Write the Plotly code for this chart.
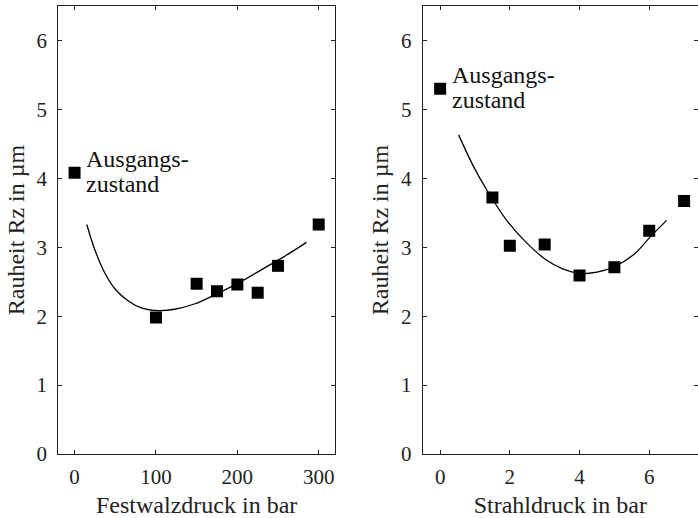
import plotly.graph_objects as go

# ---- data ----
walz_druck = [0, 100, 150, 175, 200, 225, 250, 300]
walz_rz = [4.08, 1.98, 2.47, 2.36, 2.46, 2.34, 2.73, 3.33]
walz_fit_x = [15, 25, 37, 50, 66, 82, 103, 123, 148, 158, 183, 207, 232, 257, 285]
walz_fit_y = [3.33, 2.96, 2.63, 2.39, 2.22, 2.12, 2.08, 2.10, 2.18, 2.23, 2.37, 2.52, 2.69, 2.86, 3.07]

strahl_druck = [0, 1.5, 2, 3, 4, 5, 6, 7]
strahl_rz = [5.30, 3.72, 3.02, 3.04, 2.59, 2.71, 3.24, 3.67]
strahl_fit_x = [0.53, 0.96, 1.34, 1.91, 2.49, 3.06, 3.5, 4.02, 4.5, 4.97, 5.55, 6.03, 6.5]
strahl_fit_y = [4.63, 4.17, 3.83, 3.39, 3.06, 2.81, 2.69, 2.62, 2.64, 2.71, 2.89, 3.15, 3.39]

y_ticks = [0, 1, 2, 3, 4, 5, 6]
walz_ticks = [0, 100, 200, 300]
strahl_ticks = [0, 2, 4, 6]

FONT = "'Liberation Serif', 'DejaVu Serif', 'Times New Roman', serif"
FS_TICK = 21
FS_TITLE = 24
AX = "#222222"

fig = go.Figure()
fig.add_trace(go.Scatter(x=walz_fit_x, y=walz_fit_y, mode="lines",
                         line=dict(color="black", width=1.3, shape="spline", smoothing=1.0),
                         xaxis="x", yaxis="y", showlegend=False))
fig.add_trace(go.Scatter(x=walz_druck, y=walz_rz, mode="markers", marker=dict(symbol="square", size=12, color="black"),
                         xaxis="x", yaxis="y", showlegend=False))
fig.add_trace(go.Scatter(x=strahl_fit_x, y=strahl_fit_y, mode="lines",
                         line=dict(color="black", width=1.3, shape="spline", smoothing=1.0),
                         xaxis="x2", yaxis="y2", showlegend=False))
fig.add_trace(go.Scatter(x=strahl_druck, y=strahl_rz, mode="markers", marker=dict(symbol="square", size=12, color="black"),
                         xaxis="x2", yaxis="y2", showlegend=False))

W, H = 698, 518
common_axis = dict(showgrid=False, zeroline=False, showline=True, linecolor=AX, linewidth=1.2,
                   ticks="inside", ticklen=4, tickcolor=AX, tickwidth=1,
                   tickfont=dict(family=FONT, size=FS_TICK, color="#222"))
title_font = dict(family=FONT, size=FS_TITLE, color="#222")

fig.update_layout(
    width=W, height=H,
    margin=dict(l=0, r=0, t=6, b=64),
    paper_bgcolor="white", plot_bgcolor="white",
    font=dict(family=FONT, size=FS_TICK, color="#222"),
    xaxis=dict(common_axis, domain=[58.3 / W, 335 / W], range=[-20, 320], tickvals=walz_ticks,
               mirror="ticks", anchor="y", ticklabelstandoff=4,
               title=dict(text="Festwalzdruck in bar", font=title_font, standoff=8)),
    yaxis=dict(common_axis, domain=[0, 1], range=[0, 6.5], tickvals=y_ticks, mirror="ticks", anchor="x",
               ticklabelstandoff=6,
               title=dict(text="Rauheit Rz in µm", font=title_font, standoff=5)),
    xaxis2=dict(common_axis, domain=[422.7 / W, 1.0], range=[-0.5, -0.5 + (W - 422.7) / 34.85],
                tickvals=strahl_ticks, mirror="ticks", anchor="y2", ticklabelstandoff=4,
                title=dict(text="Strahldruck in bar", font=title_font, standoff=8)),
    yaxis2=dict(common_axis, domain=[0, 1], range=[0, 6.5], tickvals=y_ticks, mirror=False, anchor="x2",
                ticklabelstandoff=6,
                title=dict(text="Rauheit Rz in µm", font=title_font, standoff=5)),
    yaxis3=dict(overlaying="y2", anchor="x2", side="right", range=[0, 6.5], tickvals=y_ticks,
                showgrid=False, zeroline=False, showline=False, showticklabels=False,
                ticks="inside", ticklen=4, tickcolor=AX, tickwidth=1),
)

# keep the overlay axis in use
fig.add_trace(go.Scatter(x=[None], y=[None], xaxis="x2", yaxis="y3", showlegend=False, hoverinfo="skip"))

ann_font = dict(family=FONT, size=FS_TITLE, color="#111")
fig.add_annotation(x=11.8, y=(454.3 - 159) / 69.05, xref="x", yref="y", text="Ausgangs-", showarrow=False,
                   xanchor="left", yanchor="middle", font=ann_font)
fig.add_annotation(x=11.8, y=(454.3 - 184) / 69.05, xref="x", yref="y", text="zustand", showarrow=False,
                   xanchor="left", yanchor="middle", font=ann_font)
fig.add_annotation(x=0.29, y=(454.3 - 75) / 69.05, xref="x2", yref="y2", text="Ausgangs-", showarrow=False,
                   xanchor="left", yanchor="middle", font=ann_font)
fig.add_annotation(x=0.29, y=(454.3 - 100) / 69.05, xref="x2", yref="y2", text="zustand", showarrow=False,
                   xanchor="left", yanchor="middle", font=ann_font)

fig.write_html("out.html")
